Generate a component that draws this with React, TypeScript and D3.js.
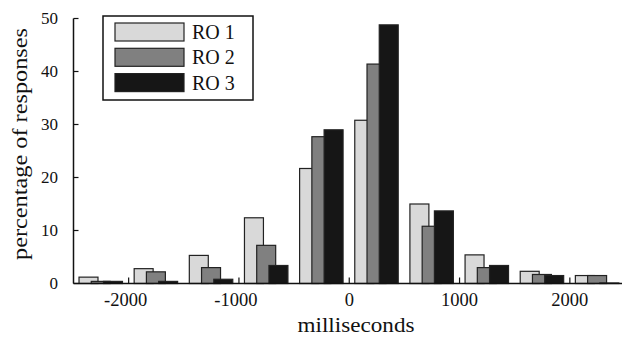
import React, { useRef, useEffect } from 'react';
import * as d3 from 'd3';

// bin start (ms), each bin is 500 ms wide
const binStarts = [-2500, -2000, -1500, -1000, -500, 0, 500, 1000, 1500, 2000];
const ro1 = [1.2, 2.8, 5.3, 12.4, 21.7, 30.8, 15.0, 5.4, 2.3, 1.5];
const ro2 = [0.4, 2.2, 3.0, 7.2, 27.7, 41.4, 10.8, 3.0, 1.7, 1.5];
const ro3 = [0.4, 0.4, 0.8, 3.4, 29.0, 48.8, 13.7, 3.4, 1.5, 0.1];
const seriesNames = ['RO 1', 'RO 2', 'RO 3'];
const xTicks = [-2000, -1000, 0, 1000, 2000];
const yTicks = [0, 10, 20, 30, 40, 50];

const FILLS = ['#d9d9d9', '#808080', '#161616'];
const FONT = '"Liberation Serif", "Times New Roman", serif';

const App: React.FC = () => {
    const svgRef = useRef<SVGSVGElement | null>(null);

    useEffect(() => {
        if (!svgRef.current) return;
        document.body.style.margin = '0';

        const width = 622, height = 338;
        const svg = d3.select(svgRef.current);
        svg.attr('width', width).attr('height', height);
        svg.selectAll('*').remove();

        const x = d3.scaleLinear().domain([-2500, 2500]).range([73.5, 625]);
        const y = d3.scaleLinear().domain([0, 50]).range([283.5, 18.5]);

        // bar layout inside a bin, in ms
        const barOffset = 50, barStep = 111, barWidth = 172;

        const series = [ro1, ro2, ro3];
        series.forEach((vals, s) => {
            svg.append('g')
                .selectAll('rect')
                .data(vals.map((v, i) => ({ v, start: binStarts[i] })))
                .join('rect')
                .attr('x', d => x(d.start + barOffset + s * barStep))
                .attr('y', d => y(d.v))
                .attr('width', x(barWidth) - x(0))
                .attr('height', d => y(0) - y(d.v))
                .attr('fill', FILLS[s])
                .attr('stroke', '#222')
                .attr('stroke-width', 1.2);
        });

        // axes
        const axisColor = '#111';
        svg.append('line')
            .attr('x1', x(-2500)).attr('x2', width)
            .attr('y1', y(0)).attr('y2', y(0))
            .attr('stroke', axisColor).attr('stroke-width', 1.5);
        svg.append('line')
            .attr('x1', x(-2500)).attr('x2', x(-2500))
            .attr('y1', y(50)).attr('y2', y(0))
            .attr('stroke', axisColor).attr('stroke-width', 1.5);

        const xt = svg.append('g');
        xt.selectAll('line').data(xTicks).join('line')
            .attr('x1', d => x(d)).attr('x2', d => x(d))
            .attr('y1', y(0)).attr('y2', y(0) - 6)
            .attr('stroke', axisColor).attr('stroke-width', 1.2);
        xt.selectAll('text').data(xTicks).join('text')
            .attr('x', d => x(d) - (d < 0 ? 3 : 0))
            .attr('y', 306)
            .attr('text-anchor', 'middle')
            .attr('font-family', FONT)
            .attr('font-size', 18.5)
            .attr('fill', '#111')
            .text(d => String(d));

        const yt = svg.append('g');
        yt.selectAll('line').data(yTicks).join('line')
            .attr('x1', x(-2500)).attr('x2', x(-2500) + 5)
            .attr('y1', d => y(d)).attr('y2', d => y(d))
            .attr('stroke', axisColor).attr('stroke-width', 1.2);
        yt.selectAll('text').data(yTicks).join('text')
            .attr('x', 58)
            .attr('y', d => y(d))
            .attr('dy', '0.34em')
            .attr('text-anchor', 'end')
            .attr('font-family', FONT)
            .attr('font-size', 17)
            .attr('fill', '#111')
            .text(d => String(d));

        // axis titles
        svg.append('text')
            .attr('x', 356).attr('y', 332)
            .attr('text-anchor', 'middle')
            .attr('font-family', FONT)
            .attr('font-size', 21)
            .attr('textLength', 117)
            .attr('lengthAdjust', 'spacingAndGlyphs')
            .attr('fill', '#111')
            .text('milliseconds');

        svg.append('text')
            .attr('transform', 'translate(27,144) rotate(-90)')
            .attr('text-anchor', 'middle')
            .attr('font-family', FONT)
            .attr('font-size', 21)
            .attr('textLength', 232)
            .attr('lengthAdjust', 'spacingAndGlyphs')
            .attr('fill', '#111')
            .text('percentage of responses');

        // legend
        const legend = svg.append('g');
        legend.append('rect')
            .attr('x', 103).attr('y', 16)
            .attr('width', 150).attr('height', 84)
            .attr('fill', 'white')
            .attr('stroke', '#111').attr('stroke-width', 1.5);
        const rows = legend.selectAll('g.row').data(seriesNames).join('g')
            .attr('class', 'row')
            .attr('transform', (_, i) => `translate(0,${23 + i * 25.3})`);
        rows.append('rect')
            .attr('x', 115).attr('y', 0)
            .attr('width', 69).attr('height', 18)
            .attr('fill', (_, i) => FILLS[i])
            .attr('stroke', '#222').attr('stroke-width', 1.2);
        rows.append('text')
            .attr('x', 192).attr('y', 9)
            .attr('dy', '0.35em')
            .attr('font-family', FONT)
            .attr('font-size', 20)
            .attr('fill', '#111')
            .text(d => d);
    }, []);

    return <svg ref={svgRef} style={{ display: 'block' }}></svg>;
};

export default App;
